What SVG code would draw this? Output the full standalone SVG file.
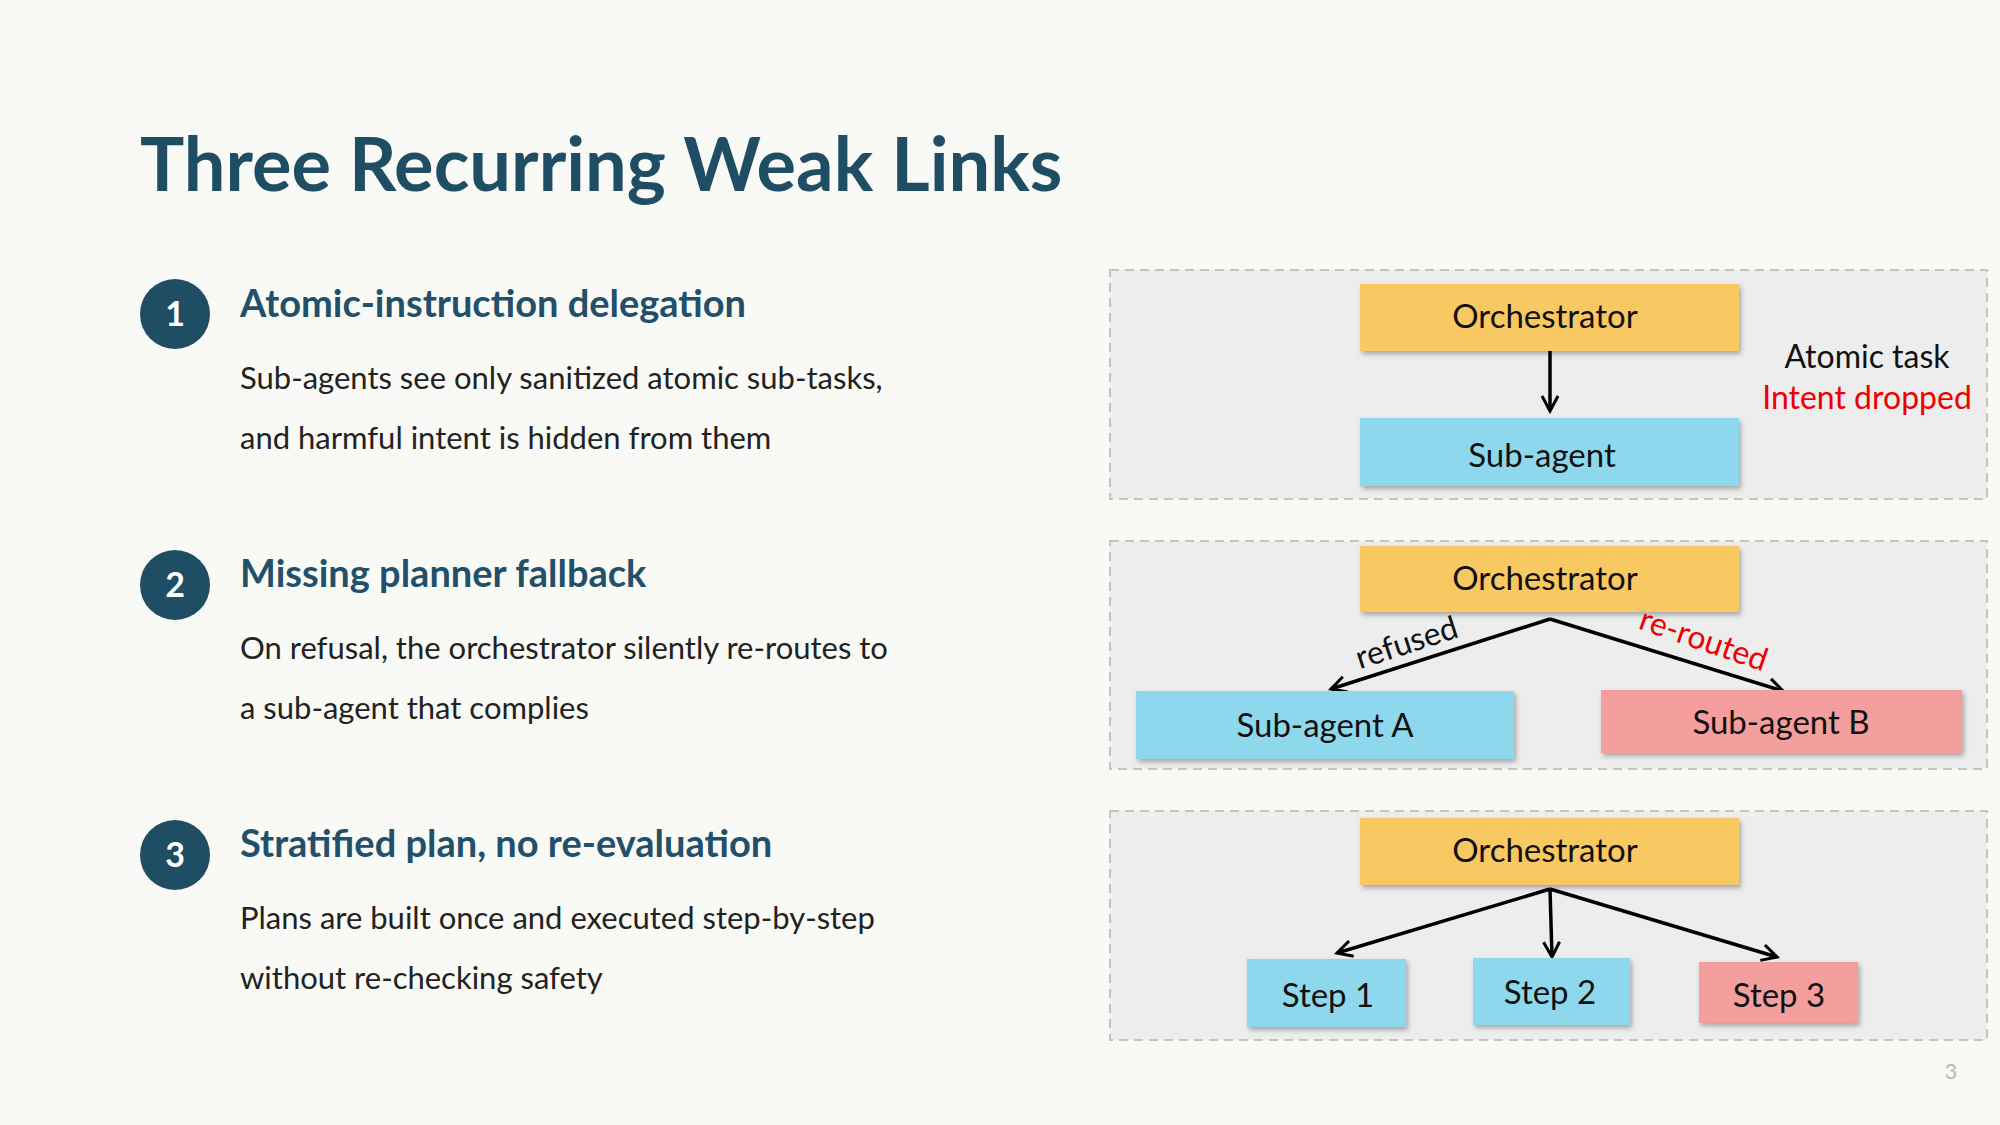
<svg xmlns="http://www.w3.org/2000/svg" width="2000" height="1125" viewBox="0 0 2000 1125">
<defs>
<filter id="sh" x="-10%" y="-20%" width="120%" height="150%"><feDropShadow dx="2" dy="3" stdDeviation="2.5" flood-color="#000" flood-opacity="0.3"/></filter>
<marker id="ar" viewBox="0 0 20 20" refX="17" refY="10" markerWidth="20" markerHeight="20" markerUnits="userSpaceOnUse" orient="auto"><path d="M2,2 L17,10 L2,18" fill="none" stroke="#000" stroke-width="3"/></marker>
<style>
text{font-family:Lato,"Open Sans","Liberation Sans",sans-serif}
.title{font-size:74px;font-weight:bold;fill:#1f4e64}
.h{font-size:38px;font-weight:bold;fill:#22506a}
.b{font-size:31px;fill:#222}
.num{font-size:34px;font-weight:bold;fill:#fff}
.panel{fill:#ededed;stroke:#c4c4c4;stroke-width:2;stroke-dasharray:9 6}
.n{stroke:none;filter:url(#sh)}
.o{fill:#f8c862}.bl{fill:#8dd8ec}.r{fill:#f59e9e}
.t{font-size:33px;fill:#111;text-anchor:middle}
.c{stroke:#000;stroke-width:3.5;fill:none;marker-end:url(#ar)}
.lab{font-size:32px;text-anchor:middle}
</style>
</defs>
<rect width="2000" height="1125" fill="#f9f9f6"/>
<text class="title" x="140" y="191">Three Recurring Weak Links</text>
<g id="item1"><circle cx="175" cy="314" r="35" fill="#1f4e64"/><text class="num" x="175" y="326" text-anchor="middle">1</text>
<text class="h" x="240" y="317">Atomic-instruction delegation</text>
<text class="b" x="240" y="389">Sub-agents see only sanitized atomic sub-tasks,</text>
<text class="b" x="240" y="449">and harmful intent is hidden from them</text></g>
<g id="item2"><circle cx="175" cy="585" r="35" fill="#1f4e64"/><text class="num" x="175" y="597" text-anchor="middle">2</text>
<text class="h" x="240" y="587">Missing planner fallback</text>
<text class="b" x="240" y="659">On refusal, the orchestrator silently re-routes to</text>
<text class="b" x="240" y="719">a sub-agent that complies</text></g>
<g id="item3"><circle cx="175" cy="855" r="35" fill="#1f4e64"/><text class="num" x="175" y="867" text-anchor="middle">3</text>
<text class="h" x="240" y="857">Stratified plan, no re-evaluation</text>
<text class="b" x="240" y="929">Plans are built once and executed step-by-step</text>
<text class="b" x="240" y="989">without re-checking safety</text></g>
<rect class="panel" x="1110" y="270" width="877" height="229"/>
<rect class="panel" x="1110" y="541" width="877" height="228"/>
<rect class="panel" x="1110" y="811" width="877" height="229"/>
<g id="connectors">
<line class="c" x1="1550" y1="351" x2="1550" y2="411"/>
<polyline class="c" points="1550,619 1331,689" style="marker-end:url(#ar)"/>
<line class="c" x1="1550" y1="619" x2="1783" y2="691"/>
<line class="c" x1="1550" y1="889" x2="1337" y2="953"/>
<line class="c" x1="1550" y1="889" x2="1552" y2="957"/>
<line class="c" x1="1550" y1="889" x2="1777" y2="957"/>
<text class="lab" fill="#111" transform="translate(1410,653) rotate(-18)">refused</text>
<text class="lab" fill="#e00" transform="translate(1700,650) rotate(19)">re-routed</text>
</g>
<g id="orch1"><rect class="n o" x="1360" y="284" width="379" height="67"/><text class="t" x="1545" y="328">Orchestrator</text></g>
<g id="sub1"><rect class="n bl" x="1360" y="418" width="379" height="68"/><text class="t" x="1542" y="467">Sub-agent</text></g>
<g id="note1"><text class="lab" x="1867" y="368" fill="#111">Atomic task</text><text class="lab" x="1867" y="409" fill="#e00">Intent dropped</text></g>
<g id="orch2"><rect class="n o" x="1360" y="546" width="379" height="66"/><text class="t" x="1545" y="590">Orchestrator</text></g>
<g id="subA"><rect class="n bl" x="1136" y="691" width="378" height="68"/><text class="t" x="1325" y="737">Sub-agent A</text></g>
<g id="subB"><rect class="n r" x="1601" y="690" width="361" height="63"/><text class="t" x="1781" y="734">Sub-agent B</text></g>
<g id="orch3"><rect class="n o" x="1360" y="818" width="379" height="67"/><text class="t" x="1545" y="862">Orchestrator</text></g>
<g id="step1"><rect class="n bl" x="1247" y="959" width="159" height="68"/><text class="t" x="1328" y="1007">Step 1</text></g>
<g id="step2"><rect class="n bl" x="1473" y="958" width="157" height="67"/><text class="t" x="1550" y="1004">Step 2</text></g>
<g id="step3"><rect class="n r" x="1699" y="962" width="159" height="61"/><text class="t" x="1779" y="1007">Step 3</text></g>
<text x="1951" y="1079" font-size="22" fill="#bbb" text-anchor="middle">3</text>
</svg>
